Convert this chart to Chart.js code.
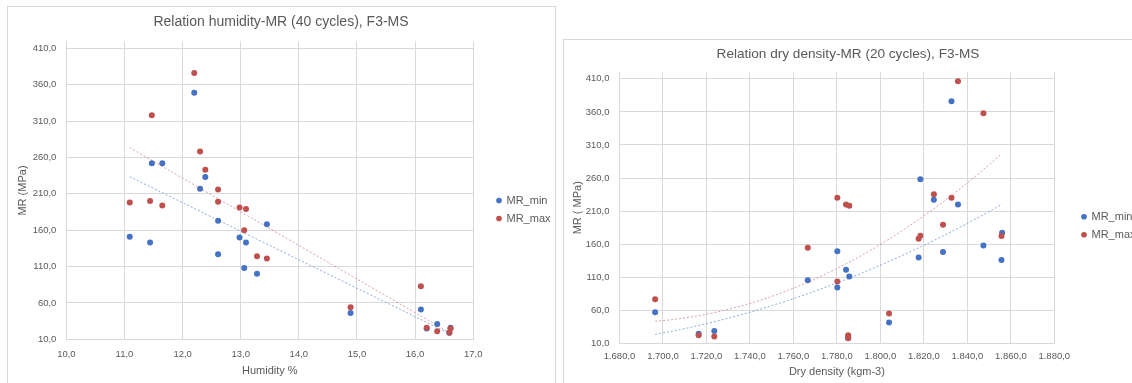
<!DOCTYPE html>
<html>
<head>
<meta charset="utf-8">
<script src="https://cdn.jsdelivr.net/npm/chart.js@4.4.0/dist/chart.umd.min.js"></script>
<style>
body { margin: 0; background: #fff; width: 1132px; height: 383px; overflow: hidden; position: relative; }
.frame { position: absolute; border: 1px solid #d9d9d9; box-sizing: border-box; overflow: hidden; }
#Frame_Humidity { left: 7px; top: 6px; width: 549px; height: 400px; }
#Frame_Density { left: 563px; top: 39px; width: 600px; height: 400px; }
canvas { position: absolute; left: 0; top: 0; }
</style>
</head>
<body>
<div class="frame" id="Frame_Humidity"><canvas id="Chart_Humidity" width="546" height="376"></canvas></div>
<div class="frame" id="Frame_Density"><canvas id="Chart_Density" width="568" height="343"></canvas></div>
<script>
// humidity chart (40 cycles)
const hum_x = [11.09, 11.44, 11.47, 11.65, 12.20, 12.30, 12.39, 12.61, 12.61, 12.98, 13.06, 13.09, 13.28, 13.45, 14.89, 16.10, 16.20, 16.38, 16.59, 16.61];
const hum_mr_min = [151, 143, 252, 252, 349, 217, 233, 173, 127, 150, 108, 143, 100, 168, 46, 51, 25, 31, 19, 26];
const hum_mr_max = [198, 200, 318, 194, 376, 268, 243, 216, 199, 191, 160, 189, 124, 121, 54, 83, 26, 21, 19, 25];
const hum_ticks_y = [10, 60, 110, 160, 210, 260, 310, 360, 410];

// dry density chart (20 cycles)
const den_x_min = [1696.4, 1716.4, 1723.6, 1766.6, 1780.2, 1780.2, 1784.2, 1785.2, 1785.2, 1785.7, 1804.0, 1817.6, 1818.4, 1824.6, 1828.8, 1832.7, 1835.7, 1847.4, 1855.7, 1856.0];
const den_mr_min = [57.0, 24.6, 28.7, 105.5, 149.4, 94.3, 121.1, 20.0, 18.0, 111.0, 41.3, 139.8, 258.0, 227.2, 147.9, 376.2, 220.1, 158.0, 135.8, 177.2];
const den_x_max = [1696.4, 1716.4, 1723.6, 1766.6, 1780.2, 1780.2, 1784.2, 1785.2, 1785.2, 1785.7, 1804.0, 1817.6, 1818.4, 1824.6, 1828.8, 1832.7, 1835.7, 1847.4, 1855.7];
const den_mr_max = [76.7, 22.1, 20.1, 154.4, 230.2, 103.4, 220.1, 22.1, 17.6, 218.1, 55.0, 168.1, 172.6, 235.3, 189.3, 230.2, 406.5, 358.0, 172.1];
const den_ticks_y = [10, 60, 110, 160, 210, 260, 310, 360, 410];

const blue = '#4472C4';
const red = '#C0504D';
const blue_trend = 'rgba(68, 114, 196, 0.6)';
const red_trend = 'rgba(192, 80, 77, 0.55)';
const text_grey = '#595959';
const grid_grey = '#d9d9d9';
const font_family = '"Liberation Sans", Arial, sans-serif';

function to_points(xs, ys) {
	return xs.map((x, i) => ({ x: x, y: ys[i] }));
}

function mean(arr) {
	return arr.reduce((a, b) => a + b, 0) / arr.length;
}

// least squares line, drawn between the data x extremes (like the Excel trendline)
function linear_trend(xs, ys) {
	const mx = mean(xs);
	const my = mean(ys);
	let sxy = 0, sxx = 0;
	for(let i = 0; i < xs.length; i++) {
		sxy += (xs[i] - mx) * (ys[i] - my);
		sxx += (xs[i] - mx) * (xs[i] - mx);
	}
	const b = sxy / sxx;
	const x0 = Math.min(...xs), x1 = Math.max(...xs);
	return [{ x: x0, y: my + b * (x0 - mx) }, { x: x1, y: my + b * (x1 - mx) }];
}

// 2nd order polynomial trendline, solved on centred x
function quad_trend(xs, ys) {
	const n = xs.length;
	const mx = mean(xs);
	let s1 = 0, s2 = 0, s3 = 0, s4 = 0, t0 = 0, t1 = 0, t2 = 0;
	for(let i = 0; i < n; i++) {
		const u = xs[i] - mx;
		s1 += u; s2 += u * u; s3 += u * u * u; s4 += u * u * u * u;
		t0 += ys[i]; t1 += u * ys[i]; t2 += u * u * ys[i];
	}
	const det3 = (m) =>
		m[0][0] * (m[1][1] * m[2][2] - m[1][2] * m[2][1]) -
		m[0][1] * (m[1][0] * m[2][2] - m[1][2] * m[2][0]) +
		m[0][2] * (m[1][0] * m[2][1] - m[1][1] * m[2][0]);
	const A = [[n, s1, s2], [s1, s2, s3], [s2, s3, s4]];
	const rhs = [t0, t1, t2];
	const D = det3(A);
	const coef = [0, 1, 2].map(c => det3(A.map((row, r) => row.map((v, k) => (k === c ? rhs[r] : v)))) / D);

	const x0 = Math.min(...xs), x1 = Math.max(...xs);
	const pts = [];
	const steps = 60;
	for(let k = 0; k <= steps; k++) {
		const x = x0 + (x1 - x0) * k / steps;
		const u = x - mx;
		pts.push({ x: x, y: coef[0] + coef[1] * u + coef[2] * u * u });
	}
	return pts;
}

function fmt_comma(v) {
	return v.toFixed(1).replace('.', ',');
}

function fmt_thousands(v) {
	const parts = v.toFixed(1).split('.');
	return parts[0].replace(/\B(?=(\d{3})+(?!\d))/g, '.') + ',' + parts[1];
}

// fixed legend width + offset, so the plot area and legend sit where Excel puts them
const legend_shift = {
	id: 'legend_shift',
	beforeLayout(chart, args, opts) {
		const lg = chart.legend;
		if(lg && !lg._fixed_width) {
			const orig_fit = lg.fit;
			lg.fit = function() {
				orig_fit.call(this);
				this.width = opts.width;
			};
			lg._fixed_width = true;
		}
	},
	afterLayout(chart, args, opts) {
		const lg = chart.legend;
		if(!lg) return;
		lg.left += opts.dx; lg.right += opts.dx;
		lg.top += opts.dy; lg.bottom += opts.dy;
	}
};

function make_chart(canvas_id, cfg) {

	const ctx = document.getElementById(canvas_id).getContext('2d');

	const datasets = [{
			label: 'MR_min',
			data: to_points(cfg.x_min, cfg.y_min),
			backgroundColor: blue,
			borderColor: blue,
			pointRadius: 3,
			pointBorderWidth: 0,
			order: 3
		}, {
			label: 'MR_max',
			data: to_points(cfg.x_max, cfg.y_max),
			backgroundColor: red,
			borderColor: red,
			pointRadius: 3,
			pointBorderWidth: 0,
			order: 2
		}, {
			label: 'trend_min',
			data: cfg.trend_min,
			showLine: true,
			borderColor: blue_trend,
			backgroundColor: blue_trend,
			borderWidth: 1,
			borderDash: [2, 2],
			pointRadius: 0,
			order: 1
		}, {
			label: 'trend_max',
			data: cfg.trend_max,
			showLine: true,
			borderColor: red_trend,
			backgroundColor: red_trend,
			borderWidth: 1,
			borderDash: [2, 2],
			pointRadius: 0,
			order: 0
		}
	];

	const options = {
		responsive: false,
		animation: false,
		layout: { padding: 0 },
		scales: {
			x: {
				type: 'linear',
				min: cfg.x_range[0],
				max: cfg.x_range[1],
				afterFit: (axis) => { axis.height = cfg.x_height; },
				grid: { color: grid_grey, drawTicks: false },
				border: { color: grid_grey },
				ticks: {
					stepSize: cfg.x_step,
					padding: cfg.x_tick_pad,
					color: text_grey,
					font: { family: font_family, size: 9.5 },
					callback: cfg.x_fmt
				},
				title: {
					display: true,
					text: cfg.x_title,
					color: text_grey,
					font: { family: font_family, size: 11 },
					padding: { top: 0, bottom: cfg.x_title_pad }
				}
			},
			y: {
				type: 'linear',
				min: 10,
				max: cfg.y_max_axis,
				afterFit: (axis) => { axis.width = cfg.y_width; },
				afterBuildTicks: (axis) => { axis.ticks = cfg.y_ticks.map(v => ({ value: v })); },
				grid: { color: grid_grey, drawTicks: false },
				border: { color: grid_grey },
				ticks: {
					padding: 10,
					color: text_grey,
					font: { family: font_family, size: 9.5 },
					callback: fmt_comma
				},
				title: {
					display: true,
					text: cfg.y_title,
					color: text_grey,
					font: { family: font_family, size: 11 },
					padding: { top: cfg.y_title_pad, bottom: 0 }
				}
			}
		},
		plugins: {
			title: {
				display: true,
				text: cfg.title,
				color: text_grey,
				font: { family: font_family, size: cfg.title_size, weight: 'normal' },
				padding: { top: cfg.title_pad[0], bottom: cfg.title_pad[1] }
			},
			legend: {
				position: 'right',
				align: 'center',
				fullSize: false,
				labels: {
					usePointStyle: true,
					pointStyle: 'circle',
					boxWidth: 4,
					boxHeight: 4,
					padding: 7,
					color: text_grey,
					font: { family: font_family, size: 11 },
					filter: (item) => item.text.indexOf('trend') !== 0,
					sort: (a, b) => a.datasetIndex - b.datasetIndex
				}
			},
			legend_shift: { width: cfg.legend_width, dx: cfg.legend_dx, dy: cfg.legend_dy },
			tooltip: { enabled: false }
		}
	};

	return new Chart(ctx, {
		type: 'scatter',
		data: { datasets: datasets },
		options: options,
		plugins: [legend_shift]
	});
}

make_chart('Chart_Humidity', {
	title: 'Relation humidity-MR (40 cycles), F3-MS',
	title_size: 14,
	x_title: 'Humidity %',
	y_title: 'MR (MPa)',
	x_min: hum_x, y_min: hum_mr_min,
	x_max: hum_x, y_max: hum_mr_max,
	trend_min: linear_trend(hum_x, hum_mr_min),
	trend_max: linear_trend(hum_x, hum_mr_max),
	x_range: [10, 17], x_step: 1, x_fmt: fmt_comma,
	y_max_axis: 419, y_ticks: hum_ticks_y,
	x_height: 43.7, y_width: 58.4,
	x_tick_pad: 9, x_title_pad: 5.4, y_title_pad: 8.4,
	title_pad: [6.6, 11.3],
	legend_width: 80.8, legend_dx: 16.8, legend_dy: 19
});

make_chart('Chart_Density', {
	title: 'Relation dry density-MR (20 cycles), F3-MS',
	title_size: 13.6,
	x_title: 'Dry density (kgm-3)',
	y_title: 'MR ( MPa)',
	x_min: den_x_min, y_min: den_mr_min,
	x_max: den_x_max, y_max: den_mr_max,
	trend_min: quad_trend(den_x_min, den_mr_min),
	trend_max: quad_trend(den_x_max, den_mr_max),
	x_range: [1680, 1880], x_step: 20, x_fmt: fmt_thousands,
	y_max_axis: 420, y_ticks: den_ticks_y,
	x_height: 39.7, y_width: 55.5,
	x_tick_pad: 7.7, x_title_pad: 4.7, y_title_pad: 7.4,
	title_pad: [5.8, 10.1],
	legend_width: 77.7, legend_dx: 20.7, legend_dy: 18
});
</script>
</body>
</html>
